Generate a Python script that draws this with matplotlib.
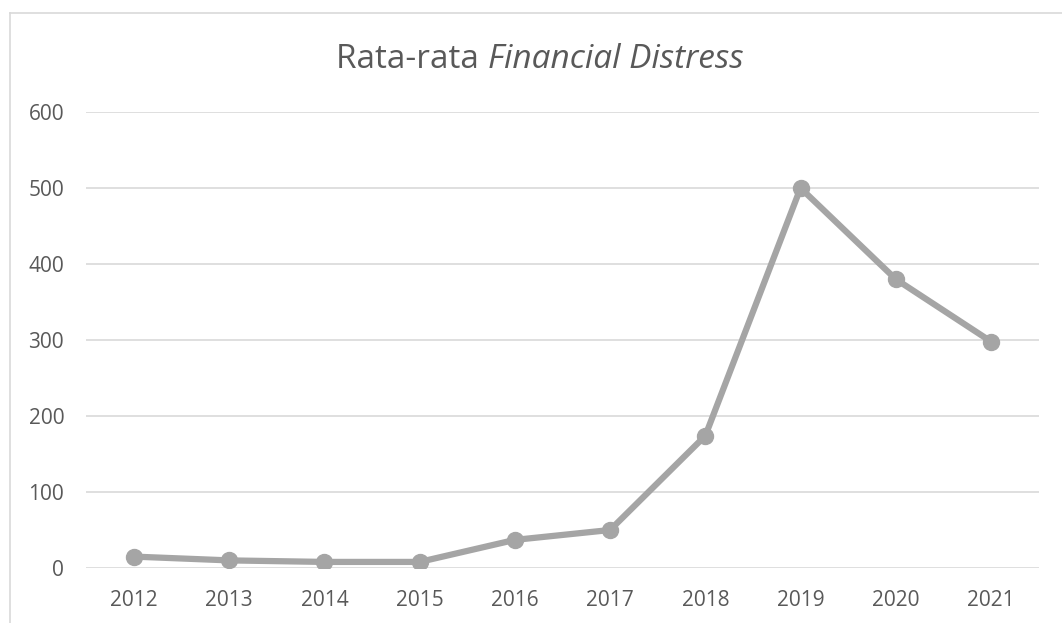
import matplotlib.pyplot as plt
from matplotlib.lines import Line2D

# data
years = ['2012', '2013', '2014', '2015', '2016', '2017', '2018', '2019', '2020', '2021']
values = [15, 10, 8, 8, 37, 50, 174, 500, 380, 298]
y_ticks = [0, 100, 200, 300, 400, 500, 600]

plt.rcParams['font.family'] = ['Open Sans', 'DejaVu Sans']

W, H = 1062, 623
fig = plt.figure(figsize=(W / 100, H / 100), dpi=100)
ax = fig.add_axes([86.4 / W, (H - 568) / H, (1038.6 - 86.4) / W, (568 - 112) / H])

x = list(range(len(years)))
ax.plot(x, values, color='#A5A5A5', linewidth=4.5, marker='o', markersize=11.5,
        solid_joinstyle='round', zorder=3)

ax.set_xlim(-0.5, len(years) - 0.5)
ax.set_ylim(0, 600)
ax.set_xticks(x)
ax.set_xticklabels(years)
ax.set_yticks(y_ticks)
ax.grid(axis='y', color='#D9D9D9', linewidth=1.2)
ax.set_axisbelow(True)
for s in ['top', 'right', 'left', 'bottom']:
    ax.spines[s].set_visible(False)
ax.tick_params(axis='both', length=0, labelsize=15, labelcolor='#595959')
ax.tick_params(axis='y', pad=16)
ax.tick_params(axis='x', pad=16)

# chart frame (only top and left are inside the picture)
fig.add_artist(Line2D([10 / W, 1], [1 - 12.5 / H] * 2, color='#D9D9D9', linewidth=1.2,
                      transform=fig.transFigure))
fig.add_artist(Line2D([10 / W] * 2, [0, 1 - 12.5 / H], color='#D9D9D9', linewidth=1.2,
                      transform=fig.transFigure))

# title with italic part
title_y = 1 - 68 / H
t1 = fig.text(0, title_y, 'Rata-rata ', fontsize=24, color='#595959', va='baseline')
t2 = fig.text(0, title_y, 'Financial Distress', fontsize=24, color='#595959',
              style='italic', va='baseline')
fig.canvas.draw()
r = fig.canvas.get_renderer()
w1 = t1.get_window_extent(r).width
w2 = t2.get_window_extent(r).width
start = 540 - (w1 + w2) / 2
t1.set_x(start / W)
t2.set_x((start + w1) / W)

fig.savefig('out.png', dpi=100)
